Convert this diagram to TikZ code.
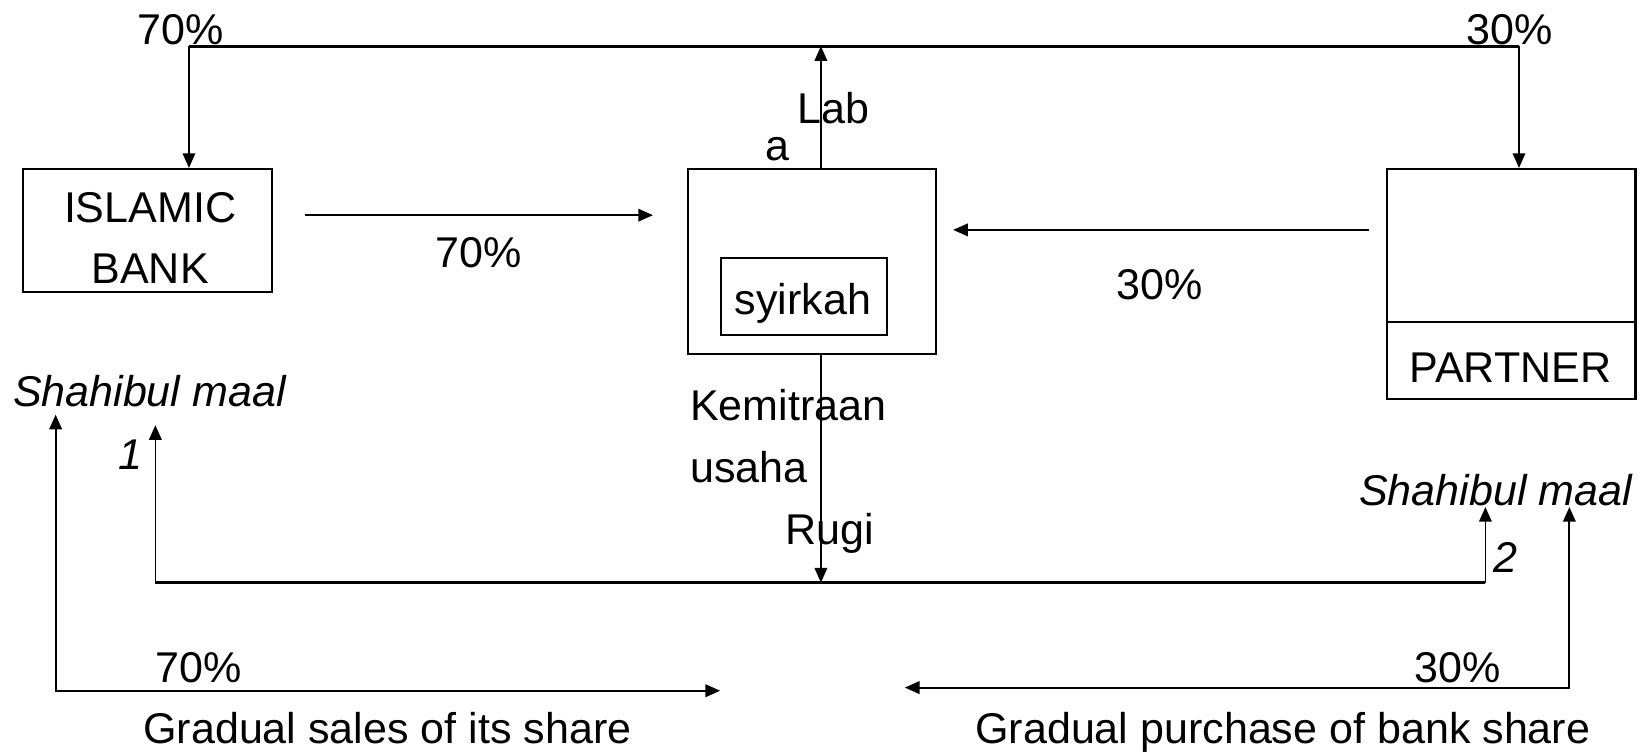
\documentclass[tikz,border=0pt]{standalone}
\usepackage{fontspec}
\setmainfont{Liberation Sans}
\usetikzlibrary{arrows.meta}
\begin{document}
\begin{tikzpicture}[x=0.5pt,y=-0.5pt,
  boxst/.style={draw, line width=1pt, inner sep=0pt},
  conn/.style={line width=0.8pt, -{Triangle[length=7pt,width=6pt]}},
  conn2/.style={line width=0.9pt, {Triangle[length=7pt,width=6pt]}-{Triangle[length=7pt,width=6pt]}},
  bus/.style={line width=1.3pt},
  txt/.style={inner sep=0pt, font=\fontsize{20.5}{24}\selectfont},
  itx/.style={txt, font=\fontsize{20.5}{24}\selectfont\itshape}]
\useasboundingbox (0,0) rectangle (1568,716);
% boxes
\node[boxst, minimum width=118.5pt, minimum height=58.5pt] (bank) at (140.5,219.5) {};
\node[boxst, minimum width=118.5pt, minimum height=88pt] (outer) at (773.5,249) {};
\node[boxst, minimum width=79pt, minimum height=36.5pt] (inner) at (766,282.5) {};
\node[boxst, minimum width=118.5pt, minimum height=109.5pt] (partner) at (1439.5,270.5) {};
\coordinate (pd) at (0,307);
\draw[line width=1pt] (partner.west |- pd) -- (partner.east |- pd);
% box texts
\node[txt, anchor=base] (bank1) at (143,212) {ISLAMIC};
\node[txt, anchor=base] (bank2) at (143,270) {BANK};
\node[txt, anchor=base] (syt) at (765,300) {syirkah};
\node[txt, anchor=base] (pt) at (1439,364) {PARTNER};
% coordinates
\coordinate (tl) at (180,44);
\coordinate (tr) at (1447,44);
\coordinate (mt) at (782,44);
\coordinate (bl) at (148,555);
\coordinate (br) at (1415,555);
\coordinate (mb) at (782,555);
\coordinate (a1s) at (291,205);
\coordinate (a1e) at (622,205);
\coordinate (a2s) at (1304,219);
\coordinate (a2e) at (908,219);
\coordinate (bu) at (148,405);
\coordinate (bru) at (1415,483);
\coordinate (lu) at (53,395);
\coordinate (lr) at (686,658);
\coordinate (ru) at (1495,483);
\coordinate (rl) at (862,655);
% top bus
\draw[bus] (tl) -- (tr);
\draw[conn] (tl) -- (tl |- bank.north);
\draw[conn] (tr) -- (tr |- partner.north);
\draw[conn] (mt |- outer.north) -- (mt);
% side arrows
\draw[conn] (a1s) -- (a1e);
\draw[conn] (a2s) -- (a2e);
% bottom bus
\draw[conn] (mt |- outer.south) -- (mb);
\draw[bus] (bl) -- (br);
\draw[conn] (bl) -- (bu);
\draw[conn] (br) -- (bru);
% L arrows
\draw[conn2] (lu) |- (lr);
\draw[conn2] (ru) |- (rl);
% labels
\node[txt, anchor=base] (p70t) at (172,42) {70\%};
\node[txt, anchor=base] (p30t) at (1438,42) {30\%};
\node[txt, anchor=base west] (lab) at (759,118) {Lab};
\node[txt, anchor=base] (la) at (741,153) {a};
\node[txt, anchor=base] (p70m) at (456,255) {70\%};
\node[txt, anchor=base] (p30m) at (1105,285) {30\%};
\node[itx, anchor=base west] (sm1) at (12,387) {Shahibul maal};
\node[itx, anchor=base] (n1) at (124,447) {1};
\node[txt, anchor=base west] (kem) at (657,401) {Kemitraan};
\node[txt, anchor=base west] (usa) at (657,460) {usaha};
\node[txt, anchor=base west] (rugi) at (748,519) {Rugi};
\node[itx, anchor=base east] (sm2) at (1555,482) {Shahibul maal};
\node[itx, anchor=base] (n2) at (1434,545) {2};
\node[txt, anchor=base west] (p70b) at (148,650) {70\%};
\node[txt, anchor=base east] (p30b) at (1430,650) {30\%};
\node[txt, anchor=base] (gs) at (369,708) {Gradual sales of its share};
\node[txt, anchor=base] (gp) at (1222,708) {Gradual purchase of bank share};
\end{tikzpicture}
\end{document}
